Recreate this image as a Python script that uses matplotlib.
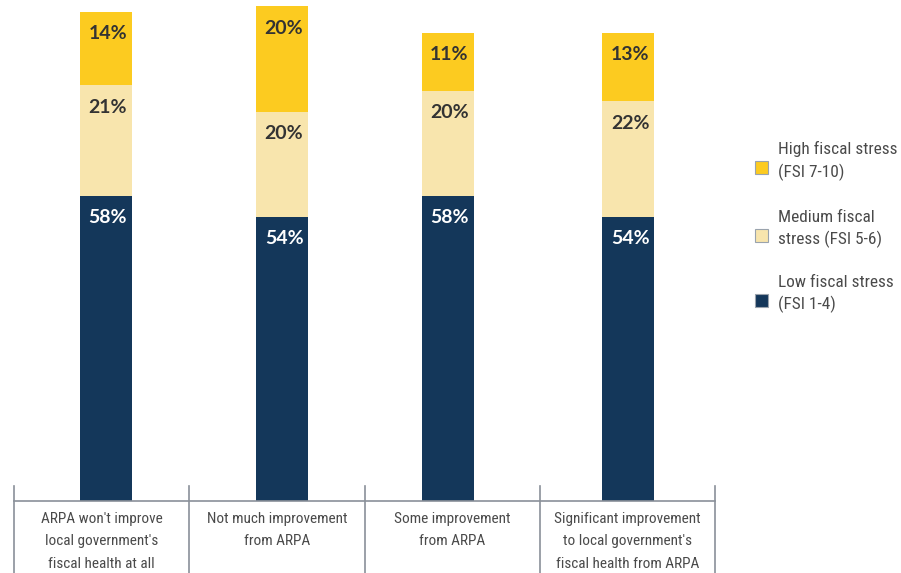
import matplotlib.pyplot as plt
from matplotlib.patches import Rectangle

categories = [
    "ARPA won't improve\nlocal government's\nfiscal health at all",
    "Not much improvement\nfrom ARPA",
    "Some improvement\nfrom ARPA",
    "Significant improvement\nto local government's\nfiscal health from ARPA",
]
low = [58, 54, 58, 54]
medium = [21, 20, 20, 22]
high = [14, 20, 11, 13]

series_names = [
    "High fiscal stress\n(FSI 7-10)",
    "Medium fiscal\nstress (FSI 5-6)",
    "Low fiscal stress\n(FSI 1-4)",
]

navy = "#14375a"
cream = "#f8e5ad"
gold = "#fccb20"
grey = "#8a9099"
text_grey = "#4a4a4a"
narrow = ["Roboto Condensed", "Archivo Narrow", "Sofia Sans Condensed", "DejaVu Sans"]
bold_font = ["Lato", "DejaVu Sans"]

fig = plt.figure(figsize=(9.01, 5.73), dpi=100)
ax = fig.add_axes([14 / 901, 72 / 573, 701 / 901, 501 / 573])

nudge = [0.026, 0.031, -0.026, 0.006]
x = [i + n for i, n in enumerate(nudge)]
w = 0.297
bottom_med = low
bottom_high = [a + b for a, b in zip(low, medium)]

ax.bar(x, low, w, color=navy)
ax.bar(x, medium, w, bottom=bottom_med, color=cream)
ax.bar(x, high, w, bottom=bottom_high, color=gold)

def seg_label(xi, top, val, color):
    ax.text(xi + 0.01, top - 4.2, f"{val}%", ha="center", va="center", color=color,
            fontsize=14, fontweight="bold", family=bold_font)

for xi, lo, me, hi, bm, bh in zip(x, low, medium, high, bottom_med, bottom_high):
    seg_label(xi, lo, lo, "white")
    seg_label(xi, bm + me, me, "#333333")
    seg_label(xi, bh + hi, hi, "#333333")

ax.set_xlim(-0.5, 3.5)
ax.set_ylim(0, 95.2)
for s in ["top", "right", "left"]:
    ax.spines[s].set_visible(False)
ax.spines["bottom"].set_color(grey)
ax.spines["bottom"].set_linewidth(1.2)
ax.set_yticks([])
ax.set_xticks(range(len(categories)))
ax.set_xticklabels(categories, fontsize=11, color=text_grey, family=narrow,
                   linespacing=1.75)
ax.tick_params(axis="x", length=0, pad=8)

# category separators
for sx in [-0.5, 0.5, 1.5, 2.5, 3.5]:
    ax.plot([sx, sx], [15 / 501, -72 / 501], color=grey, lw=1.2,
            transform=ax.get_xaxis_transform(), clip_on=False)

# legend drawn by hand, top to bottom
legend_colors = [gold, cream, navy]
legend_y = [161, 229, 294]
for name, col, py in zip(series_names, legend_colors, legend_y):
    fig.add_artist(Rectangle((755 / 901, 1 - (py + 13) / 573), 13 / 901, 13 / 573,
                             transform=fig.transFigure, facecolor=col,
                             edgecolor="#9aa3ad", lw=0.8))
    fig.text(778 / 901, 1 - py / 573, name, ha="left", va="center", fontsize=12.4,
             color=text_grey, family=narrow, linespacing=1.45)

fig.savefig("out.png", dpi=100)
